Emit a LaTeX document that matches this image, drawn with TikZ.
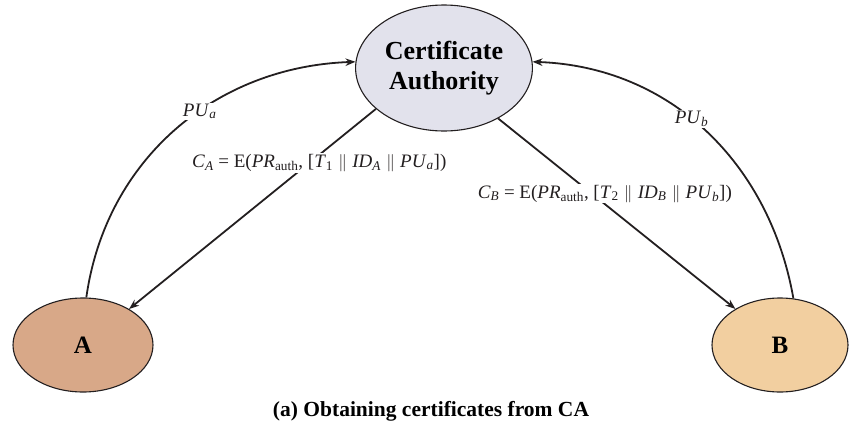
\documentclass[tikz,border=0pt]{standalone}
\usepackage{fontspec}
\setmainfont{Liberation Serif}
\usepackage{tikz}
\usetikzlibrary{shapes.geometric, arrows.meta, positioning}
\definecolor{cadark}{RGB}{35,31,32}
\definecolor{cafill}{RGB}{226,226,236}
\definecolor{afill}{RGB}{216,168,136}
\definecolor{bfill}{RGB}{242,207,160}
\newcommand{\lsub}[1]{\textsubscript{#1}}
\newcommand{\dbar}{\;$\|$\;}
\tikzset{
  party/.style={ellipse, draw=cadark, line width=1.1pt,
    minimum width=140pt, minimum height=94pt,
    font=\fontsize{25}{27}\selectfont\bfseries},
  authority/.style={ellipse, draw=cadark, fill=cafill, line width=1.1pt,
    minimum width=166pt, minimum height=126pt, align=center,
    font=\fontsize{26}{30}\selectfont\bfseries},
  msg/.style={fill=white, inner sep=1pt, font=\fontsize{19}{21}\selectfont},
  arrow/.style={-{Stealth[length=10pt,width=7.5pt]}, line width=1.8pt, color=cadark}
}
\begin{document}
\begin{tikzpicture}[x=1pt, y=-1pt]
  \useasboundingbox (0,0) rectangle (855,426);

  % Parties
  \node[authority] (ca) at (444,68) {Certificate\\Authority};
  \node[party, fill=afill] (nodeA) at (83,345) {A};
  \node[party, fill=bfill, minimum width=136pt] (nodeB) at (780,345) {B};

  % Public keys sent to CA
  \draw[arrow] (nodeA.86) to[out=82, in=182]
    node[msg, pos=0.58] {\textit{PU}\lsub{\textit{a}}} (ca.176);
  \draw[arrow] (nodeB.74) to[out=100, in=-2]
    node[msg, pos=0.55] {\textit{PU}\lsub{\textit{b}}} (ca.4);

  % Certificates returned
  \draw[arrow] (ca.211) -- (nodeA.38)
    node[msg, pos=0.27, xshift=10pt] {\textit{C}\lsub{\textit{A}} = E(\textit{PR}\lsub{auth}, [\textit{T}\lsub{1}\dbar\textit{ID}\lsub{\textit{A}}\dbar\textit{PU}\lsub{\textit{a}}])};
  \draw[arrow] (ca.317) -- (nodeB.141)
    node[msg, pos=0.395, xshift=13pt] {\textit{C}\lsub{\textit{B}} = E(\textit{PR}\lsub{auth}, [\textit{T}\lsub{2}\dbar\textit{ID}\lsub{\textit{B}}\dbar\textit{PU}\lsub{\textit{b}}])};

  % Caption
  \node[font=\fontsize{21.5}{23}\selectfont\bfseries] (caption) at (431,411) {(a) Obtaining certificates from CA};
\end{tikzpicture}
\end{document}
